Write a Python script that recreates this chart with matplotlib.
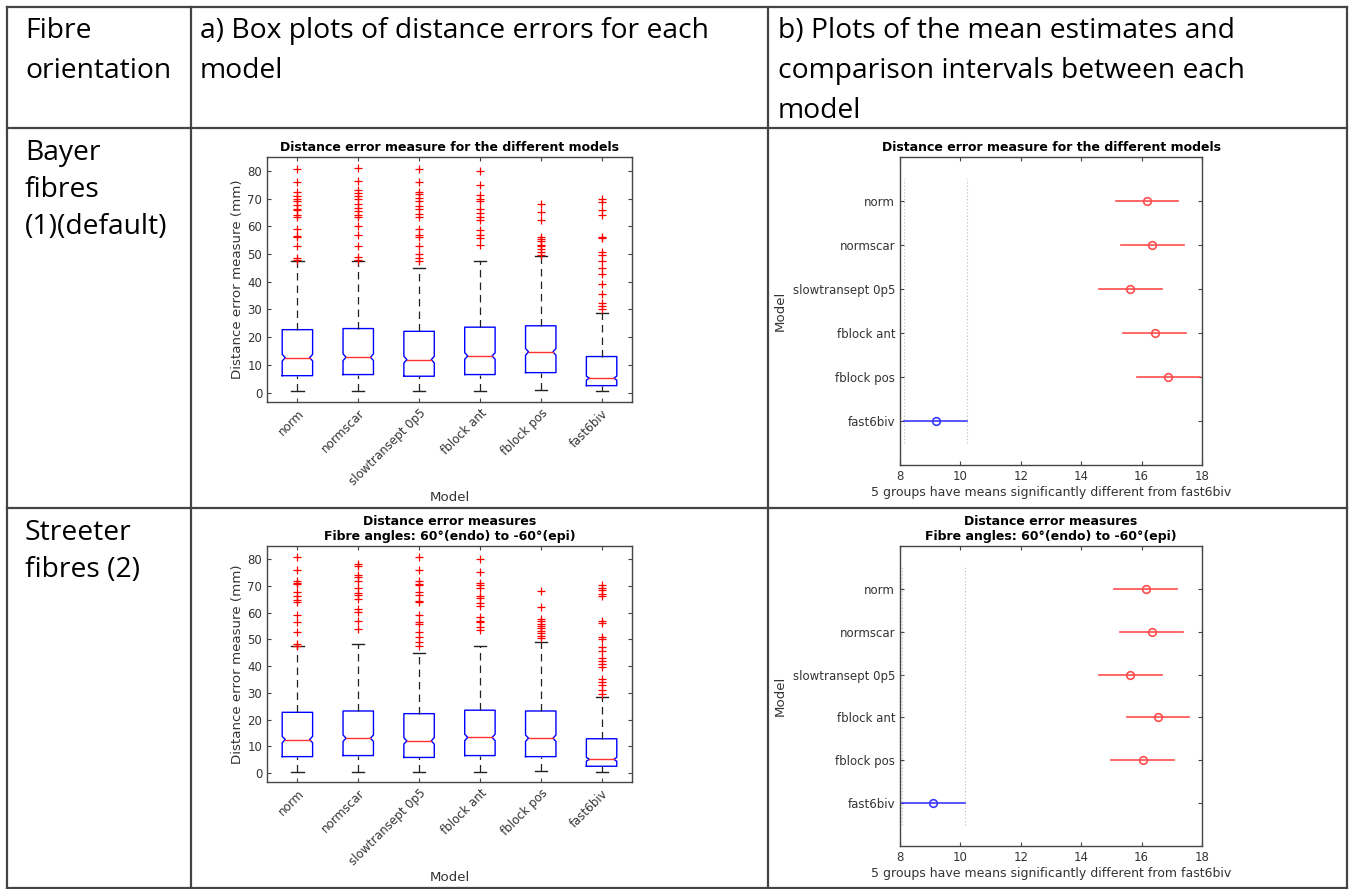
import matplotlib
matplotlib.use("Agg")
import matplotlib.pyplot as plt
from matplotlib.lines import Line2D
import numpy as np

W, H = 1351, 889

models = ["norm", "normscar", "slowtransept 0p5", "fblock ant", "fblock pos", "fast6biv"]

# --- box plot summaries, Bayer fibres (1) ---
bay_q1 = [6.1, 6.5, 5.9, 6.5, 7.2, 2.5]
bay_med = [12.6, 12.75, 11.9, 13.2, 14.7, 5.2]
bay_q3 = [22.7, 23.1, 22.1, 23.6, 24.1, 13.0]
bay_lo = [0.7, 0.7, 0.7, 0.7, 1.0, 0.7]
bay_hi = [47.5, 47.5, 45.0, 47.5, 49.2, 28.8]
bay_notch = [1.2, 1.2, 1.2, 1.2, 1.2, 0.7]
bay_fliers = [
    [80.8, 75.9, 72.2, 71.0, 70.0, 69.0, 67.6, 66.2, 65.7, 64.2, 63.4, 59.2, 56.5, 56.2, 52.8, 48.6, 47.8],
    [81.1, 76.5, 73.0, 72.0, 71.0, 70.0, 68.2, 66.6, 65.4, 64.2, 63.2, 60.0, 57.0, 52.8, 48.8, 47.9],
    [80.8, 75.9, 72.4, 71.5, 70.3, 69.0, 67.4, 66.2, 64.5, 63.2, 59.2, 56.8, 56.2, 52.8, 49.9, 48.6, 47.5],
    [80.0, 75.0, 71.2, 70.0, 69.0, 66.2, 64.8, 63.2, 62.4, 58.6, 57.0, 55.9, 53.4],
    [68.2, 65.2, 62.2, 56.2, 55.3, 54.6, 53.4, 52.8, 51.7, 50.8, 49.6],
    [70.0, 68.6, 65.7, 64.2, 56.2, 55.6, 50.8, 49.7, 47.4, 45.0, 42.9, 39.3, 35.5, 32.4, 31.3, 30.3],
]

# --- box plot summaries, Streeter fibres (2) ---
str_q1 = [6.1, 6.5, 5.8, 6.5, 6.1, 2.5]
str_med = [12.5, 13.0, 12.0, 13.3, 13.0, 5.1]
str_q3 = [22.7, 23.2, 22.2, 23.5, 23.2, 12.8]
str_lo = [0.5, 0.5, 0.5, 0.5, 0.7, 0.5]
str_hi = [47.6, 48.4, 45.1, 47.6, 49.0, 28.6]
str_notch = [1.2, 1.2, 1.2, 1.2, 1.2, 0.7]
str_fliers = [
    [81.0, 75.9, 72.0, 71.3, 70.6, 67.8, 66.3, 64.7, 63.9, 59.3, 56.5, 52.7, 48.3, 47.7],
    [78.1, 77.5, 74.0, 73.4, 72.0, 69.4, 67.3, 66.7, 65.1, 61.4, 60.1, 57.0, 53.9],
    [81.0, 75.9, 72.0, 70.9, 70.4, 67.6, 66.6, 64.5, 63.9, 59.3, 56.5, 55.8, 52.7, 50.8, 48.9, 47.7],
    [80.0, 75.3, 71.3, 70.4, 69.4, 66.3, 65.5, 63.5, 62.4, 58.3, 57.0, 56.4, 54.8, 53.7],
    [68.2, 62.1, 57.6, 56.8, 55.8, 55.2, 54.3, 53.3, 52.4, 51.4, 50.6],
    [70.4, 69.4, 68.6, 67.0, 66.2, 57.0, 56.0, 50.8, 50.2, 47.1, 45.8, 43.1, 41.9, 40.9, 39.6, 35.3, 34.0, 32.8, 30.9, 29.7],
]

# --- multiple comparison means and interval half widths ---
bay_means = [16.18, 16.36, 15.62, 16.43, 16.89, 9.18]
str_means = [16.14, 16.34, 15.62, 16.54, 16.03, 9.10]
bay_half = 1.04
str_half = 1.04

title1 = "Distance error measure for the different models"
title2 = "Distance error measures\nFibre angles: 60°(endo) to -60°(epi)"
mc_xlabel = "5 groups have means significantly different from fast6biv"

header = ["Fibre\norientation",
          "a) Box plots of distance errors for each\nmodel",
          "b) Plots of the mean estimates and\ncomparison intervals between each\nmodel"]
row_labels = ["Bayer\nfibres\n(1)(default)", "Streeter\nfibres (2)"]

FRAME = "#444444"
TXT = "#333333"

fig = plt.figure(figsize=(W / 100, H / 100), dpi=100)
fig.patch.set_facecolor("white")


def px_axes(left, top, right, bottom):
    return fig.add_axes([left / W, 1 - bottom / H, (right - left) / W, (bottom - top) / H])


def style_axes(ax):
    for s in ax.spines.values():
        s.set_color(FRAME)
        s.set_linewidth(1.0)
    ax.tick_params(direction="in", top=True, right=True, length=3,
                   color=FRAME, labelcolor=TXT, labelsize=8.5)


def box_panel(ax, q1, med, q3, lo, hi, notch, fliers, title):
    w, inset, cw = 0.25, 0.8, 0.1
    for i in range(len(models)):
        x = i + 1
        xs = [x - w, x + w, x + w, x + w * inset, x + w, x + w, x - w, x - w,
              x - w * inset, x - w, x - w]
        ys = [q1[i], q1[i], med[i] - notch[i], med[i], med[i] + notch[i], q3[i],
              q3[i], med[i] + notch[i], med[i], med[i] - notch[i], q1[i]]
        ax.plot(xs, ys, color="blue", lw=1.0)
        ax.plot([x - w * inset, x + w * inset], [med[i], med[i]], color="#ff3030", lw=1.0)
        ax.plot([x, x], [q3[i], hi[i]], color="#222222", lw=0.9, ls=(0, (6, 4)))
        ax.plot([x, x], [lo[i], q1[i]], color="#222222", lw=0.9, ls=(0, (6, 4)))
        ax.plot([x - cw, x + cw], [hi[i], hi[i]], color="#222222", lw=1.0)
        ax.plot([x - cw, x + cw], [lo[i], lo[i]], color="#222222", lw=1.0)
        ax.plot([x] * len(fliers[i]), fliers[i], "+", color="red", ms=5.5, mew=0.9)
    ax.set_xlim(0.5, len(models) + 0.5)
    ax.set_ylim(-3.4, 85)
    ax.set_yticks(np.arange(0, 81, 10))
    ax.set_xticks(range(1, len(models) + 1))
    ax.set_xticklabels(models, rotation=45, ha="right", rotation_mode="anchor")
    ax.set_ylabel("Distance error measure (mm)", fontsize=9.6, color=TXT, labelpad=2)
    ax.set_xlabel("Model", fontsize=9.6, color=TXT, labelpad=2)
    ax.set_title(title, fontsize=9, fontweight="bold", pad=4)
    style_axes(ax)


def mc_panel(ax, means, half, title):
    n = len(models)
    ypos = np.arange(n, 0, -1)
    ref = means[-1]
    for i in range(n):
        c = "#3a3aff" if i == n - 1 else "#ff4d4d"
        ax.plot([means[i] - half, means[i] + half], [ypos[i], ypos[i]], color=c, lw=1.2)
        ax.plot(means[i], ypos[i], "o", mfc="none", mec=c, ms=5.5, mew=1.2)
    for xv in (ref - half, ref + half):
        ax.plot([xv, xv], [0.5, n + 0.5], color="#bbbbbb", lw=0.8, ls=(0, (1, 2)))
    ax.set_xlim(8, 18)
    ax.set_ylim(0, n + 1)
    ax.set_xticks([8, 10, 12, 14, 16, 18])
    ax.set_yticks(ypos)
    ax.set_yticklabels(models)
    ax.set_ylabel("Model", fontsize=9.6, color=TXT, labelpad=4)
    ax.set_xlabel(mc_xlabel, fontsize=9, color=TXT, labelpad=2)
    ax.set_title(title, fontsize=9, fontweight="bold", pad=4)
    style_axes(ax)


ax1 = px_axes(267, 157, 632, 402)
box_panel(ax1, bay_q1, bay_med, bay_q3, bay_lo, bay_hi, bay_notch, bay_fliers, title1)
ax2 = px_axes(900, 157, 1202, 465)
mc_panel(ax2, bay_means, bay_half, title1)
ax3 = px_axes(267, 546, 632, 782)
box_panel(ax3, str_q1, str_med, str_q3, str_lo, str_hi, str_notch, str_fliers, title2)
ax4 = px_axes(900, 546, 1202, 846)
mc_panel(ax4, str_means, str_half, title2)

# table grid
def hline(y, x0, x1, lw=1.6):
    fig.add_artist(Line2D([x0 / W, x1 / W], [1 - y / H, 1 - y / H], color=FRAME, lw=lw))


def vline(x, y0, y1, lw=1.6):
    fig.add_artist(Line2D([x / W, x / W], [1 - y0 / H, 1 - y1 / H], color=FRAME, lw=lw))


for y in (7, 128, 508, 888):
    hline(y, 7, 1347)
for x in (7, 191, 768, 1347):
    vline(x, 7, 888)

cell_font = dict(family=["Open Sans", "DejaVu Sans"], fontsize=20.3, color="black",
                 va="baseline", ha="left")
for x0, txt in zip((25, 200, 778), header):
    for k, line in enumerate(txt.split("\n")):
        fig.text(x0 / W, 1 - (38 + 40 * k) / H, line, **cell_font)
for y0, txt in zip((160, 540), row_labels):
    for k, line in enumerate(txt.split("\n")):
        fig.text(25 / W, 1 - (y0 + 37 * k) / H, line, **cell_font)

fig.savefig("out.png", dpi=100)
